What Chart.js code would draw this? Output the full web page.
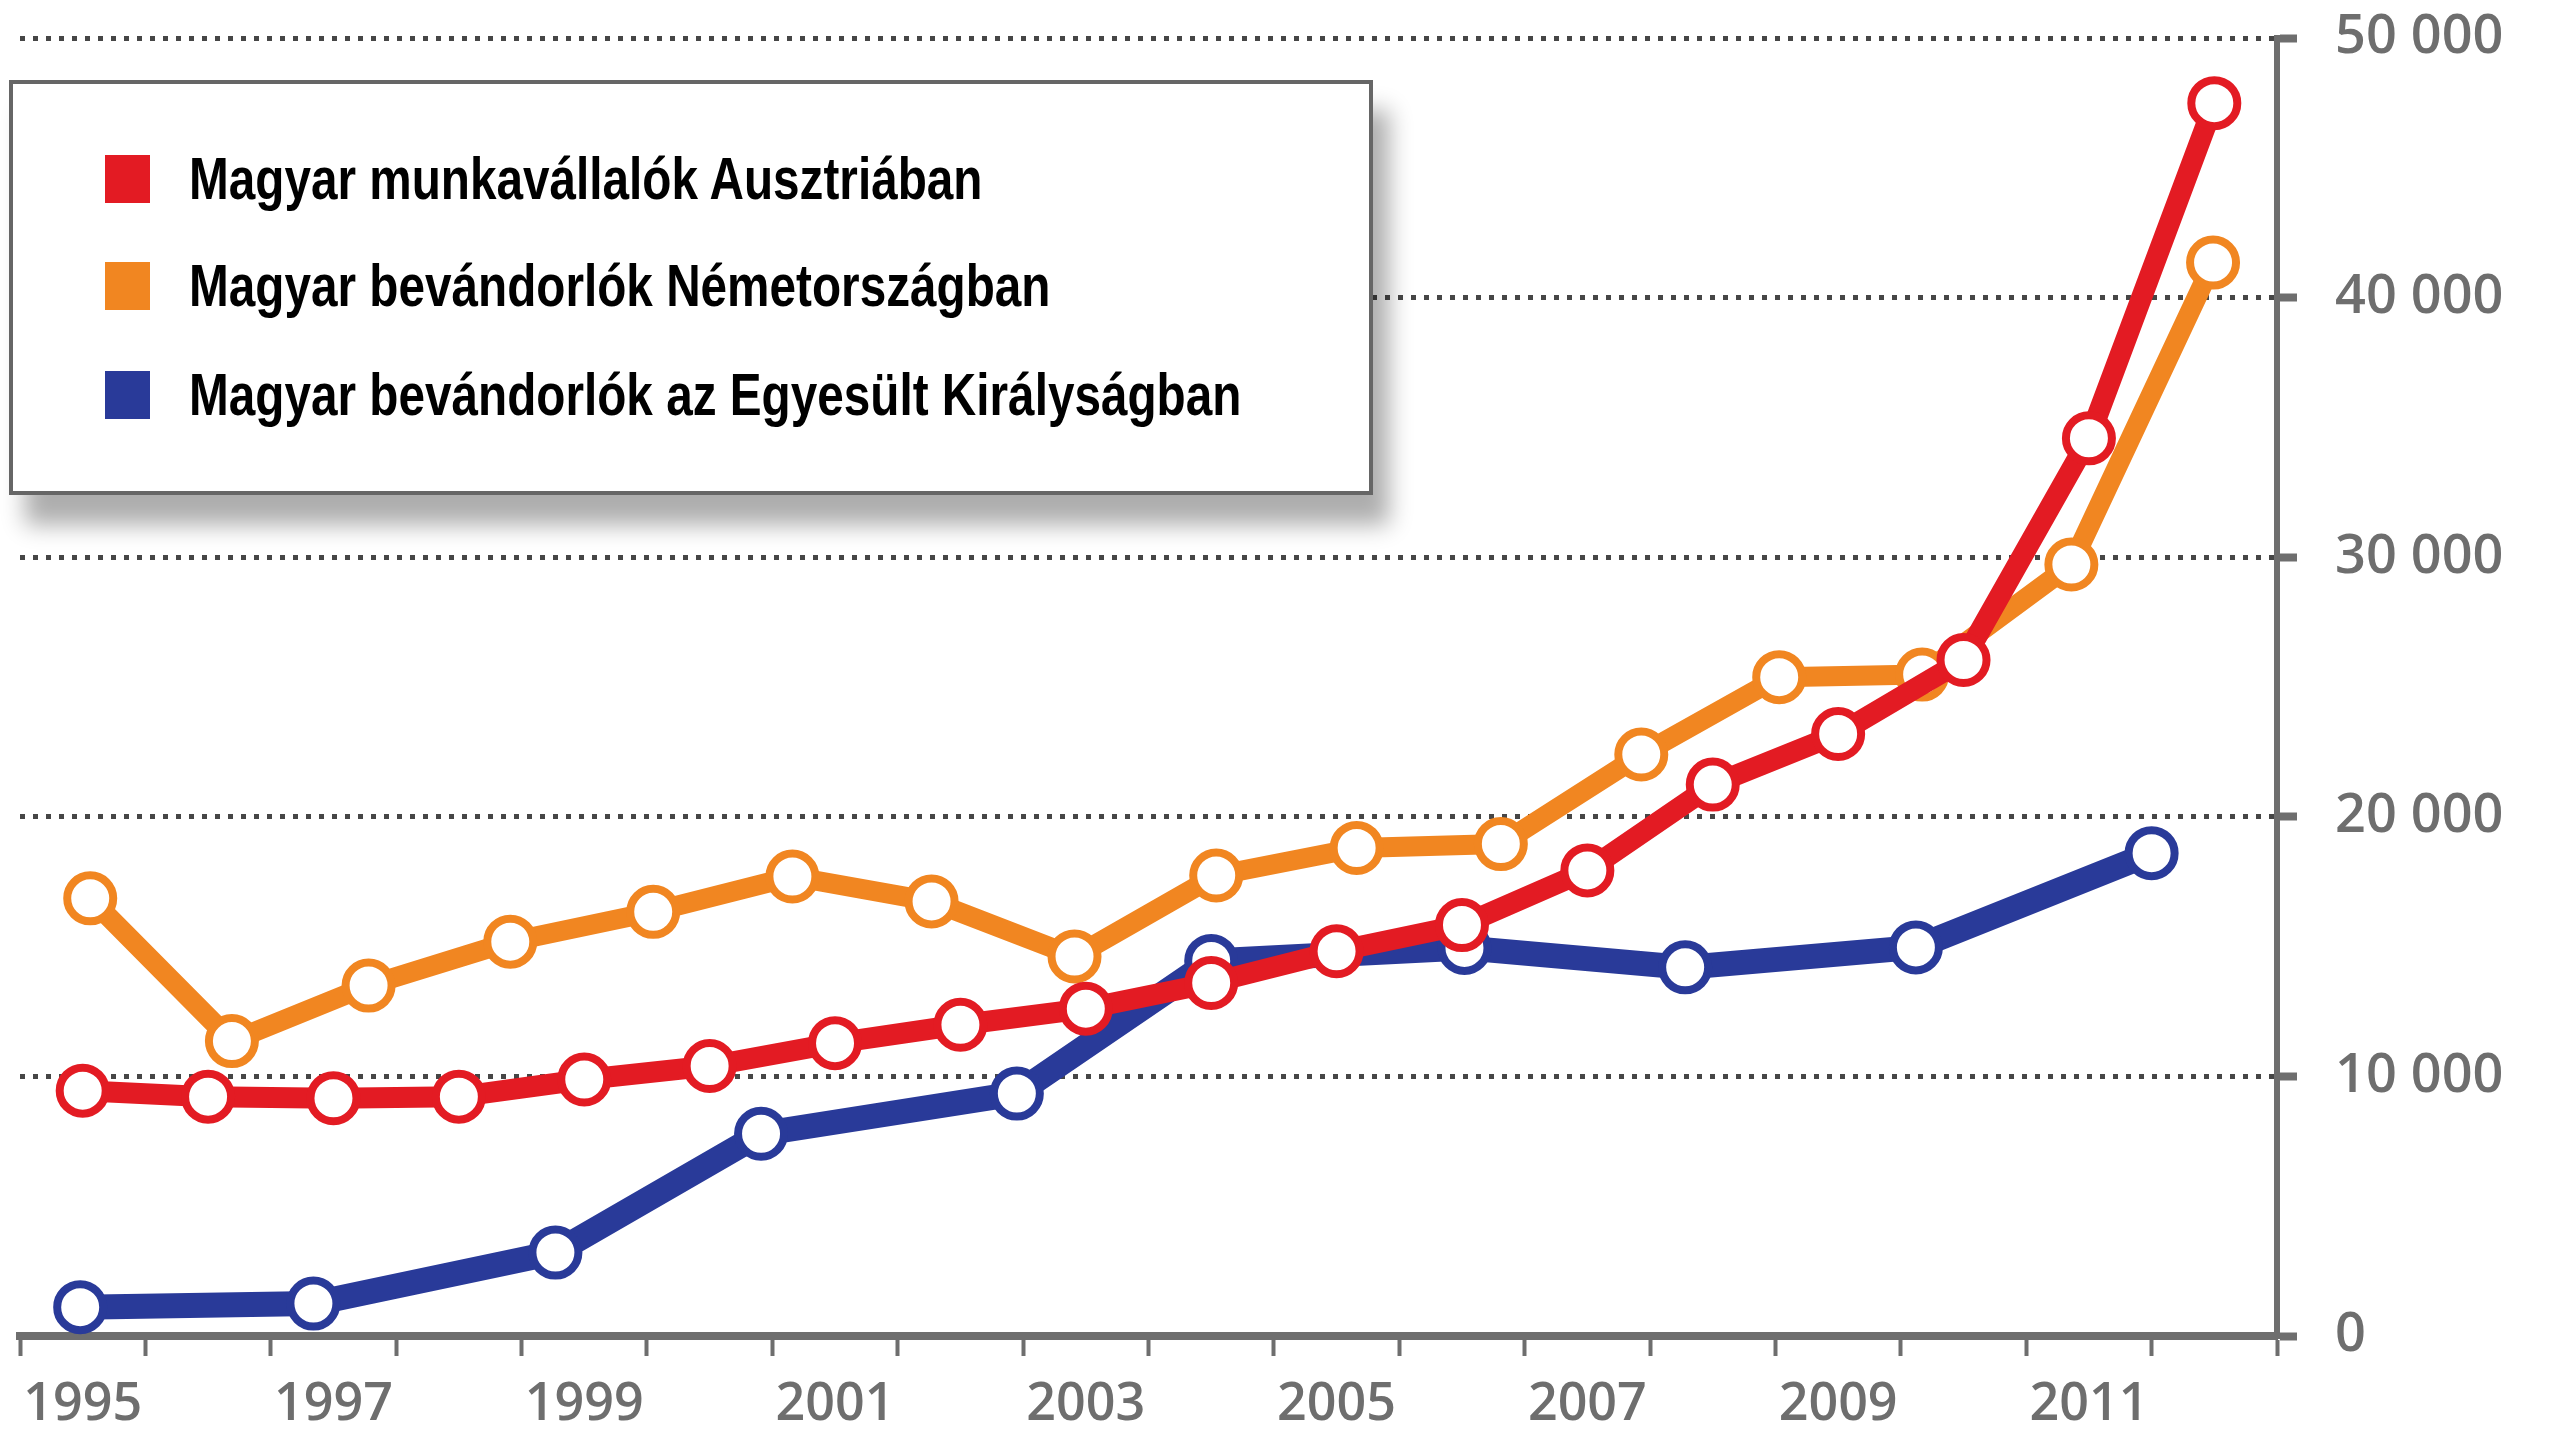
<!DOCTYPE html>
<html lang="hu">
<head>
<meta charset="utf-8">
<title>Magyar munkavállalók és bevándorlók</title>
<script src="https://cdn.jsdelivr.net/npm/chart.js@4.4.1/dist/chart.umd.min.js"></script>
<style>
    html, body { margin: 0; padding: 0; background: #fff; }
    #wrap { position: relative; width: 2554px; height: 1440px; }
    #legend {
        position: absolute; left: 9px; top: 80px; width: 1364px; height: 415px;
        box-sizing: border-box; background: #fff; border: 4px solid #666;
        box-shadow: 16px 30px 22px rgba(0, 0, 0, 0.32);
    }
    .row { position: absolute; left: 92px; height: 48px; display: flex; align-items: center; }
    .sw { width: 45px; height: 48px; margin-right: 39px; flex: none; }
    .lbl {
        font-family: 'Liberation Sans', Arial, sans-serif;
        font-weight: bold; font-size: 60px; line-height: 60px; color: #000; white-space: nowrap;
        display: inline-block; transform: scaleX(0.795); transform-origin: left center;
    }
</style>
</head>
<body>
<div id="wrap">
    <canvas id="lineChart"></canvas>
    <div id="legend"></div>
</div>
<script>
(function () {
    // sorozatok nevei és színei
    const seriesNames = [
        'Magyar munkavállalók Ausztriában',
        'Magyar bevándorlók Németországban',
        'Magyar bevándorlók az Egyesült Királyságban'
    ];
    const paleta = {
        piros: 'rgb(227, 27, 35)',
        narancs: 'rgb(241, 134, 33)',
        kek: 'rgb(41, 58, 153)',
        szurke: 'rgb(110, 110, 110)'
    };

    // Ausztria
    const redYears = [1995, 1996, 1997, 1998, 1999, 2000, 2001, 2002, 2003, 2004, 2005, 2006, 2007, 2008, 2009, 2010, 2011, 2012];
    const redValues = [9450, 9220, 9160, 9220, 9880, 10400, 11280, 11990, 12610, 13600, 14820, 15830, 17935, 21240, 23190, 26040, 34580, 47490];

    // Németország
    const orangeYears = [1995.06, 1996.19, 1997.28, 1998.41, 1999.55, 2000.66, 2001.77, 2002.91, 2004.04, 2005.16, 2006.31, 2007.43, 2008.53, 2009.67, 2010.86, 2011.99];
    const orangeValues = [16860, 11360, 13500, 15190, 16340, 17700, 16740, 14620, 17740, 18800, 18950, 22400, 25380, 25480, 29720, 41350];

    // Egyesült Királyság
    const blueYears = [1994.98, 1996.84, 1998.77, 2000.41, 2002.45, 2004.0, 2006.02, 2007.78, 2009.62, 2011.5];
    const blueValues = [1110, 1250, 3215, 7790, 9340, 14450, 14950, 14200, 14970, 18600];

    const xMin = 1994.5, xMax = 2012.5;
    const yMax = 50000, yStep = 10000;

    const pontok = (xs, ys) => xs.map((x, i) => ({ x: x, y: ys[i] }));
    const ezres = v => String(v).replace(/\B(?=(\d{3})+(?!\d))/g, ' ');
    const egesz = v => Math.abs(v - Math.round(v)) < 0.01;

    const sorozat = (label, color, data, width) => ({
        label: label,
        data: data,
        borderColor: color,
        borderWidth: width,
        backgroundColor: color,
        pointRadius: 23,
        pointBorderWidth: 8,
        pointBorderColor: color,
        pointBackgroundColor: '#fff',
        tension: 0,
        borderJoinStyle: 'round',
        borderCapStyle: 'round',
        clip: false
    });

    // jelmagyarázat (HTML doboz)
    const legend = document.getElementById('legend');
    const colors = [paleta.piros, paleta.narancs, paleta.kek];
    const rowTops = [71, 178, 287];
    seriesNames.forEach((name, i) => {
        const row = document.createElement('div');
        row.className = 'row';
        row.style.top = rowTops[i] + 'px';
        const sw = document.createElement('div');
        sw.className = 'sw';
        sw.style.background = colors[i];
        const lbl = document.createElement('span');
        lbl.className = 'lbl';
        lbl.textContent = name;
        row.appendChild(sw);
        row.appendChild(lbl);
        legend.appendChild(row);
    });

    const tickFont = { family: "'Open Sans', sans-serif", size: 54, weight: 600 };

    const grafikon = document.getElementById('lineChart');
    new Chart(grafikon, {
        type: 'line',
        data: {
            datasets: [
                sorozat(seriesNames[0], paleta.piros, pontok(redYears, redValues), 21),
                sorozat(seriesNames[1], paleta.narancs, pontok(orangeYears, orangeValues), 20),
                sorozat(seriesNames[2], paleta.kek, pontok(blueYears, blueValues), 25)
            ]
        },
        options: {
            responsive: true,
            maintainAspectRatio: false,
            animation: false,
            layout: { autoPadding: false, padding: { left: 20, top: 38, right: 0, bottom: 0 } },
            plugins: {
                legend: { display: false },
                tooltip: { enabled: false }
            },
            scales: {
                x: {
                    type: 'linear',
                    position: 'bottom',
                    min: xMin,
                    max: xMax,
                    afterFit: s => { s.height = 104; s.paddingLeft = 0; s.paddingRight = 0; },
                    ticks: {
                        stepSize: 0.5,
                        autoSkip: false,
                        maxRotation: 0,
                        padding: 18,
                        color: paleta.szurke,
                        font: { family: "'Open Sans', sans-serif", size: 52, weight: 600 },
                        callback: v => (egesz(v) && Math.round(v) % 2 === 1) ? String(Math.round(v)) : ''
                    },
                    grid: {
                        drawOnChartArea: false,
                        drawTicks: true,
                        tickLength: 20,
                        tickWidth: 4,
                        tickColor: ctx => egesz(ctx.tick.value) ? 'rgba(0,0,0,0)' : paleta.szurke
                    },
                    border: { display: true, width: 8, color: paleta.szurke }
                },
                y: {
                    type: 'linear',
                    position: 'right',
                    min: 0,
                    max: yMax,
                    afterFit: s => { s.width = 277; s.paddingTop = 0; s.paddingBottom = 0; },
                    ticks: {
                        stepSize: yStep,
                        padding: 38,
                        color: paleta.szurke,
                        font: tickFont,
                        callback: v => ezres(v)
                    },
                    grid: {
                        color: 'rgb(70, 70, 70)',
                        lineWidth: 5,
                        drawTicks: true,
                        tickLength: 20,
                        tickWidth: 8,
                        tickColor: paleta.szurke,
                        tickBorderDash: [100, 0]
                    },
                    border: { display: true, width: 6, color: paleta.szurke, dash: [5, 8] }
                }
            }
        }
    });
})();
</script>
</body>
</html>
